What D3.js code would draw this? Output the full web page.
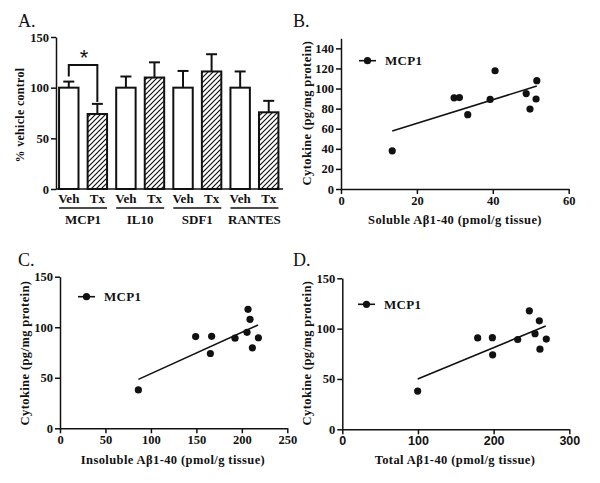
<!DOCTYPE html>
<html><head><meta charset="utf-8">
<script src="https://cdn.jsdelivr.net/npm/d3@7"></script>
<style>
body{margin:0;background:#fff;}
svg{display:block;font-family:"Liberation Serif","Times New Roman",serif;}
</style></head>
<body>
<svg id="c" width="600" height="483"></svg>
<script>
// ---- Panel A data ----
const cytokines = ["MCP1","IL10","SDF1","RANTES"];
const groups = ["Veh","Tx"];
const barMeans = [100, 74, 100, 110, 100, 116, 100, 75.7];
const barErrs  = [6, 10, 11, 15, 16.5, 17, 16, 11.3];
const yTicksA = [0, 50, 100, 150];

// ---- Scatter data (MCP1) ----
const mcp1      = [38, 90.8, 91, 74, 89.2, 117.7, 95, 79.6, 89.6, 107.8];
const soluble   = [13.5, 29.8, 31.2, 33.4, 39.3, 40.6, 48.8, 49.8, 51.4, 51.6];
const insoluble = [86.2, 149.2, 166.8, 165.4, 192.5, 206.8, 205.7, 211.6, 218.2, 209];
const total     = [99.6, 178.9, 198.3, 198.7, 231.8, 247.2, 254.7, 261.2, 269.6, 260.4];
const fitB = [[13.5, 57.7], [51.6, 102.5]];
const fitC = [[86.2, 48.4], [217.8, 102.2]];
const fitD = [[99.6, 50.0], [268.8, 102.6]];
const xTicksB = [0, 20, 40, 60];
const xTicksC = [0, 50, 100, 150, 200, 250];
const xTicksD = [0, 100, 200, 300];
const yTicksB = [0, 20, 40, 60, 80, 100, 120, 140];
const yTicksCD = [0, 50, 100, 150];

const svg = d3.select("#c");
const defs = svg.append("defs");
defs.append("pattern").attr("id","hatch").attr("patternUnits","userSpaceOnUse")
  .attr("width",5).attr("height",5)
  .append("path").attr("d","M-1,1 l2,-2 M0,5 l5,-5 M4,6 l2,-2")
  .attr("stroke","#111").attr("stroke-width",1.2);

function styleAxis(g, fontFamily){
  g.select(".domain").attr("stroke","#111").attr("stroke-width",1.5);
  g.selectAll(".tick line").attr("stroke","#111").attr("stroke-width",1.5);
  g.selectAll(".tick text").attr("fill","#111").attr("font-size",12.5).attr("font-weight","bold")
    .attr("font-family", fontFamily || "Liberation Serif, serif");
}

function panelLetter(t, x, y){
  svg.append("text").attr("x",x).attr("y",y).attr("font-size",18).attr("fill","#111").text(t);
}

// ===== Panel A =====
panelLetter("A.", 18, 27);
const yA = d3.scaleLinear().domain([0,150]).range([189, 37]);
const barIds = d3.range(barMeans.length);
const xA = d3.scaleBand().domain(barIds).range([54.5, 283]).paddingInner(0.32).paddingOuter(0.16);
const gA = svg.append("g");
gA.selectAll("rect.bar").data(barIds).enter().append("rect")
  .attr("x", i => xA(i)).attr("width", xA.bandwidth())
  .attr("y", i => yA(barMeans[i])).attr("height", i => yA(0) - yA(barMeans[i]))
  .attr("fill", i => i % 2 ? "url(#hatch)" : "#fff")
  .attr("stroke","#111").attr("stroke-width",2);
barIds.forEach(i => {
  const cx = xA(i) + xA.bandwidth()/2;
  gA.append("line").attr("x1",cx).attr("x2",cx)
    .attr("y1",yA(barMeans[i])).attr("y2",yA(barMeans[i]+barErrs[i]))
    .attr("stroke","#111").attr("stroke-width",2);
  gA.append("line").attr("x1",cx-5.5).attr("x2",cx+5.5)
    .attr("y1",yA(barMeans[i]+barErrs[i])).attr("y2",yA(barMeans[i]+barErrs[i]))
    .attr("stroke","#111").attr("stroke-width",2);
});
const axA = svg.append("g").attr("transform","translate(56,0)")
  .call(d3.axisLeft(yA).tickValues(yTicksA).tickSize(5).tickSizeOuter(0).tickPadding(2));
styleAxis(axA);
svg.append("line").attr("x1",56).attr("x2",283).attr("y1",yA(0)).attr("y2",yA(0))
  .attr("stroke","#111").attr("stroke-width",1.5);
barIds.forEach(i => {
  svg.append("text").attr("x", xA(i)+xA.bandwidth()/2).attr("y",203)
    .attr("text-anchor","middle").attr("font-size",13).attr("font-weight","bold").attr("fill","#111")
    .text(groups[i%2]);
});
cytokines.forEach((c,k) => {
  const x0 = xA(2*k), x1 = xA(2*k+1) + xA.bandwidth();
  svg.append("line").attr("x1",x0).attr("x2",x1).attr("y1",208).attr("y2",208)
    .attr("stroke","#111").attr("stroke-width",1.5);
  svg.append("text").attr("x",(x0+x1)/2).attr("y",224).attr("text-anchor","middle")
    .attr("font-size",13).attr("font-weight","bold").attr("fill","#111").text(c);
});
svg.append("text").attr("transform","translate(24,115) rotate(-90)").attr("text-anchor","middle")
  .attr("font-size",12).attr("font-weight","bold").attr("fill","#111").attr("letter-spacing",0.3)
  .text("% vehicle control");
{
  const c0 = xA(0)+xA.bandwidth()/2, c1 = xA(1)+xA.bandwidth()/2;
  const top = 65;
  svg.append("path").attr("d",`M${c0},${yA(barMeans[0]+barErrs[0])-5} V${top} H${c1} V${yA(barMeans[1]+barErrs[1])-2}`)
    .attr("fill","none").attr("stroke","#111").attr("stroke-width",2);
  svg.append("text").attr("x",(c0+c1)/2+1).attr("y",65).attr("text-anchor","middle")
    .attr("font-size",22).attr("font-family","Liberation Sans, sans-serif").attr("fill","#111").text("*");
}

// ===== Scatter panels =====
function scatter(opt){
  panelLetter(opt.letter, opt.lx, opt.ly);
  const x = d3.scaleLinear().domain(opt.xDom).range(opt.xRange);
  const y = d3.scaleLinear().domain([0,150]).range(opt.yRange);
  const gx = svg.append("g").attr("transform",`translate(0,${opt.yRange[0]})`)
    .call(d3.axisBottom(x).tickValues(opt.xTicks).tickSize(5).tickSizeOuter(0).tickPadding(2));
  styleAxis(gx, opt.xFont);
  const gy = svg.append("g").attr("transform",`translate(${opt.xRange[0]},0)`)
    .call(d3.axisLeft(y).tickValues(opt.yTicks).tickSize(5).tickSizeOuter(0).tickPadding(2));
  styleAxis(gy);
  svg.append("line").attr("x1",x(opt.fit[0][0])).attr("y1",y(opt.fit[0][1]))
    .attr("x2",x(opt.fit[1][0])).attr("y2",y(opt.fit[1][1]))
    .attr("stroke","#111").attr("stroke-width",1.6);
  svg.selectAll(null).data(opt.xs).enter().append("circle")
    .attr("cx", d => x(d)).attr("cy", (d,i) => y(mcp1[i])).attr("r",3.6).attr("fill","#111");
  svg.append("line").attr("x1",opt.leg[0]).attr("x2",opt.leg[0]+17).attr("y1",opt.leg[1]).attr("y2",opt.leg[1])
    .attr("stroke","#111").attr("stroke-width",1.6);
  svg.append("circle").attr("cx",opt.leg[0]+8.5).attr("cy",opt.leg[1]).attr("r",3.6).attr("fill","#111");
  svg.append("text").attr("x",opt.leg[0]+26).attr("y",opt.leg[1]+4.5).attr("font-size",13)
    .attr("font-weight","bold").attr("fill","#111").attr("letter-spacing",0.3).text("MCP1");
  svg.append("text").attr("x",opt.xtPos[0]).attr("y",opt.xtPos[1]).attr("text-anchor","middle")
    .attr("font-size",12.5).attr("font-weight","bold").attr("fill","#111").attr("letter-spacing",0.4)
    .text(opt.xTitle);
  svg.append("text").attr("transform",`translate(${opt.ytPos[0]},${opt.ytPos[1]}) rotate(-90)`)
    .attr("text-anchor","middle").attr("font-size",12.5).attr("font-weight","bold").attr("fill","#111")
    .attr("letter-spacing",0.4).text("Cytokine (pg/mg protein)");
}

scatter({letter:"B.", lx:293, ly:27, xDom:[0,60], xRange:[341,568.7], yRange:[189,38.3],
  xTicks:xTicksB, yTicks:yTicksB, xs:soluble, fit:fitB, leg:[359,60.7],
  xTitle:"Soluble Aβ1-40 (pmol/g tissue)", xtPos:[455,224], ytPos:[311,113]});
scatter({letter:"C.", lx:18, ly:266, xDom:[0,250], xRange:[60,287.3], yRange:[428.3,276.7],
  xTicks:xTicksC, yTicks:yTicksCD, xs:insoluble, fit:fitC, leg:[78,296.7],
  xTitle:"Insoluble Aβ1-40 (pmol/g tissue)", xtPos:[173,464], ytPos:[29,353]});
scatter({letter:"D.", lx:293, ly:266, xDom:[0,300], xRange:[342.3,569.3], yRange:[429.3,278.3],
  xTicks:xTicksD, yTicks:yTicksCD, xs:total, fit:fitD, leg:[358,304.3], xFont:"Liberation Sans, sans-serif",
  xTitle:"Total Aβ1-40 (pmol/g tissue)", xtPos:[455,464], ytPos:[311,353]});
</script>
</body></html>
